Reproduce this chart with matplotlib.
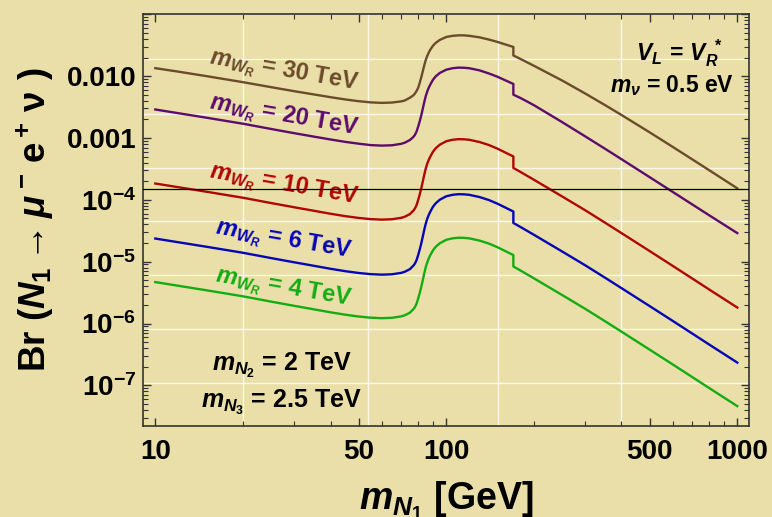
import numpy as np
import matplotlib.pyplot as plt
from matplotlib.ticker import FixedLocator, NullFormatter

plt.rcParams["font.family"] = ["Liberation Sans", "DejaVu Sans"]
plt.rcParams["font.weight"] = "bold"
plt.rcParams["mathtext.fontset"] = "custom"
plt.rcParams["mathtext.rm"] = "Liberation Sans:bold"
plt.rcParams["mathtext.it"] = "Liberation Sans:italic:bold"
plt.rcParams["mathtext.bf"] = "Liberation Sans:bold"
plt.rcParams["mathtext.sf"] = "Liberation Sans:bold"

# heavy neutrino mass m_N1 in GeV (170 twice: step at the top threshold)
m_N1 = [10, 12, 15, 20, 25, 30, 35, 40, 45, 50, 55, 60, 65, 70, 72, 75, 77, 78, 79, 80,
        81, 82, 83, 84, 85, 86, 87, 88, 90, 92, 95, 100, 105, 110, 115, 120, 130, 140,
        150, 160, 170, 170, 180, 200, 250, 300, 350, 400, 500, 600, 700, 800, 1000]

# log10 of the branching ratio for each W_R mass
log_br_30TeV = [-1.871, -1.927, -2.000, -2.097, -2.178, -2.243, -2.295, -2.340, -2.377,
                -2.405, -2.424, -2.432, -2.427, -2.408, -2.393, -2.348, -2.311, -2.282,
                -2.241, -2.191, -2.110, -2.021, -1.924, -1.825, -1.738, -1.672, -1.620,
                -1.576, -1.507, -1.461, -1.414, -1.366, -1.348, -1.340, -1.340, -1.348,
                -1.372, -1.408, -1.447, -1.489, -1.528, -1.665, -1.723, -1.832, -2.070,
                -2.280, -2.464, -2.628, -2.909, -3.144, -3.345, -3.520, -3.814]
log_br_20TeV = [-2.539, -2.599, -2.672, -2.769, -2.854, -2.922, -2.977, -3.024, -3.063,
                -3.092, -3.115, -3.123, -3.118, -3.094, -3.076, -3.032, -2.985, -2.950,
                -2.898, -2.820, -2.733, -2.636, -2.529, -2.419, -2.322, -2.248, -2.189,
                -2.141, -2.058, -2.003, -1.948, -1.895, -1.872, -1.862, -1.864, -1.872,
                -1.906, -1.956, -2.010, -2.070, -2.126, -2.299, -2.354, -2.469, -2.743,
                -2.973, -3.170, -3.343, -3.634, -3.872, -4.074, -4.249, -4.538]
log_br_10TeV = [-3.736, -3.796, -3.869, -3.966, -4.052, -4.120, -4.176, -4.225, -4.264,
                -4.293, -4.312, -4.320, -4.314, -4.291, -4.273, -4.230, -4.176, -4.141,
                -4.087, -4.006, -3.917, -3.817, -3.707, -3.594, -3.494, -3.416, -3.356,
                -3.306, -3.222, -3.165, -3.108, -3.052, -3.029, -3.019, -3.021, -3.029,
                -3.065, -3.113, -3.173, -3.238, -3.299, -3.484, -3.550, -3.675, -3.945,
                -4.168, -4.365, -4.538, -4.829, -5.068, -5.272, -5.449, -5.742]
log_br_6TeV = [-4.626, -4.686, -4.759, -4.856, -4.942, -5.010, -5.066, -5.115, -5.154,
               -5.183, -5.202, -5.210, -5.204, -5.181, -5.163, -5.120, -5.066, -5.031,
               -4.977, -4.896, -4.807, -4.707, -4.597, -4.484, -4.384, -4.306, -4.246,
               -4.196, -4.112, -4.055, -3.998, -3.942, -3.919, -3.909, -3.911, -3.919,
               -3.955, -4.003, -4.063, -4.128, -4.189, -4.374, -4.440, -4.565, -4.835,
               -5.058, -5.255, -5.428, -5.719, -5.958, -6.162, -6.339, -6.632]
log_br_4TeV = [-5.330, -5.390, -5.463, -5.560, -5.646, -5.714, -5.770, -5.819, -5.858,
               -5.887, -5.906, -5.914, -5.908, -5.885, -5.867, -5.824, -5.770, -5.735,
               -5.681, -5.600, -5.511, -5.411, -5.301, -5.188, -5.088, -5.010, -4.950,
               -4.900, -4.816, -4.759, -4.702, -4.646, -4.623, -4.613, -4.615, -4.623,
               -4.659, -4.707, -4.767, -4.832, -4.893, -5.078, -5.144, -5.269, -5.539,
               -5.762, -5.959, -6.132, -6.423, -6.662, -6.866, -7.043, -7.336]

curves = [log_br_30TeV, log_br_20TeV, log_br_10TeV, log_br_6TeV, log_br_4TeV]
curve_labels = ["30", "20", "10", "6", "4"]
colors = ["#6b4b2b", "#5c0c6c", "#b00606", "#0606b4", "#12ad12"]
label_pos = [(0.232, 0.862), (0.232, 0.752), (0.232, 0.583), (0.232, 0.450), (0.232, 0.335)]

br_limit = 1.5e-4

x_major = [10, 50, 100, 500, 1000]
x_minor = [20, 30, 40, 60, 70, 80, 90, 200, 300, 400, 600, 700, 800, 900]
y_major = [1e-7, 1e-6, 1e-5, 1e-4, 1e-3, 1e-2]
y_ticklabels = [r"$\mathbf{10^{-7}}$", r"$\mathbf{10^{-6}}$", r"$\mathbf{10^{-5}}$",
                r"$\mathbf{10^{-4}}$", "0.001", "0.010"]

grid_x = [20, 54, 150, 400]
grid_y = [10 ** e for e in (-1.730, -2.604, -3.478, -4.346, -5.220, -6.094, -6.963)]

bg = "#eadfa8"

fig = plt.figure(figsize=(7.72, 5.17), dpi=100, facecolor=bg)
ax = fig.add_axes([0.1852, 0.176, 0.785, 0.7963])
ax.set_facecolor(bg)
ax.set_xscale("log")
ax.set_yscale("log")
ax.set_xlim(9.07, 1097)
ax.set_ylim(2.2e-8, 0.1)

for gx in grid_x:
    ax.axvline(gx, color="white", lw=1.0, alpha=0.8, zorder=0.5)
for gy in grid_y:
    ax.axhline(gy, color="white", lw=1.0, alpha=0.8, zorder=0.5)

for lbr, c in zip(curves, colors):
    ax.plot(m_N1, 10.0 ** np.array(lbr), color=c, lw=1.7, zorder=3)

ax.axhline(br_limit, color="black", lw=0.9, zorder=4)

for lab, c, (tx, ty) in zip(curve_labels, colors, label_pos):
    ax.text(tx, ty, r"$m_{W_R}$ = " + lab + " TeV", color=c, fontsize=17,
            rotation=-10, ha="center", va="center", transform=ax.transAxes)

ax.text(0.957, 0.905, r"$V_L\, =\, V_R^{\ *}$", fontsize=16.5, ha="right", va="center",
        transform=ax.transAxes)
ax.text(0.975, 0.828, r"$m_\nu$ = 0.5 eV", fontsize=16.5, ha="right", va="center",
        transform=ax.transAxes)
ax.text(0.229, 0.148, r"$m_{N_2}$ = 2 TeV", fontsize=18, ha="center", va="center",
        transform=ax.transAxes)
ax.text(0.228, 0.058, r"$m_{N_3}$ = 2.5 TeV", fontsize=18, ha="center", va="center",
        transform=ax.transAxes)

ax.xaxis.set_major_locator(FixedLocator(x_major))
ax.xaxis.set_minor_locator(FixedLocator(x_minor))
ax.set_xticklabels([str(v) for v in x_major])
ax.xaxis.set_minor_formatter(NullFormatter())

ax.yaxis.set_major_locator(FixedLocator(y_major + [1e-1]))
minor_y = [m * 10.0 ** e for e in range(-8, -1) for m in range(2, 10)]
ax.yaxis.set_minor_locator(FixedLocator(minor_y))
ax.set_yticklabels(y_ticklabels + [""])
ax.yaxis.set_minor_formatter(NullFormatter())

ax.tick_params(which="both", direction="in", top=True, right=True,
               color="#333333", labelsize=20)
ax.tick_params(which="major", length=6, width=1.0)
ax.tick_params(which="minor", length=3.5, width=0.8)
ax.tick_params(axis="x", which="major", pad=9)
ax.tick_params(axis="y", which="major", pad=5)

for s in ax.spines.values():
    s.set_color("#333333")
    s.set_linewidth(1.2)

fig.text(0.578, 0.015, r"$m_{N_1}$ [GeV]", fontsize=27, fontweight="bold",
         ha="center", va="baseline")
fig.text(0.046, 0.574, r"Br $(N_1 \rightarrow \mu^-\,\mathrm{e}^+\,\mathrm{\nu}\ )$",
         fontsize=26.5, fontweight="bold", rotation=90, ha="center", va="center")

fig.savefig("out.png", dpi=100, facecolor=bg)
